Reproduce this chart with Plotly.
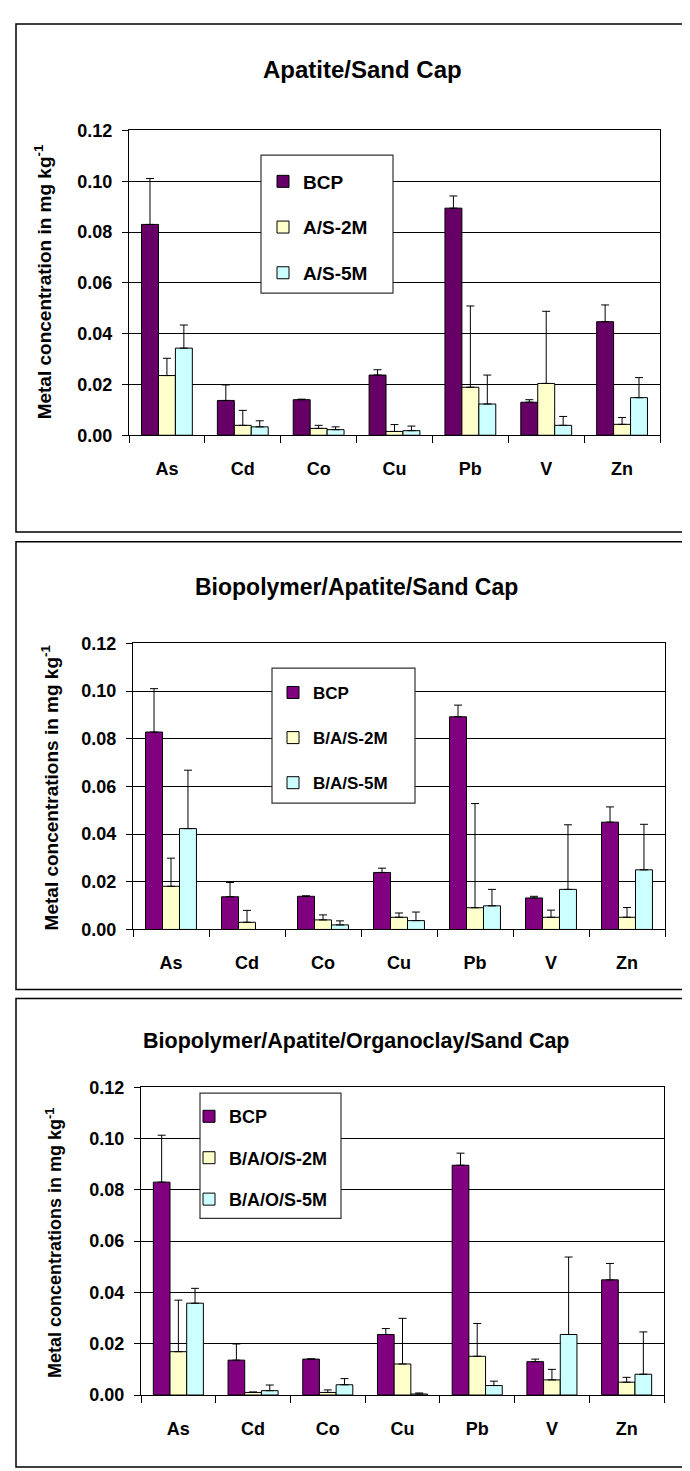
import plotly.graph_objects as go

W, H = 690, 1471

metals = ["As", "Cd", "Co", "Cu", "Pb", "V", "Zn"]

titles = ["Apatite/Sand Cap",
          "Biopolymer/Apatite/Sand Cap",
          "Biopolymer/Apatite/Organoclay/Sand Cap"]
ytitles = ["Metal concentration in mg kg<sup>-1</sup>",
           "Metal concentrations in mg kg<sup>-1</sup>",
           "Metal concentrations in mg kg<sup>-1</sup>"]
names1 = ["BCP", "A/S-2M", "A/S-5M"]
names2 = ["BCP", "B/A/S-2M", "B/A/S-5M"]
names3 = ["BCP", "B/A/O/S-2M", "B/A/O/S-5M"]

# Panel 1: Apatite/Sand Cap (means and upper error)
p1_bcp = [0.0830, 0.0137, 0.0140, 0.0237, 0.0894, 0.0130, 0.0447]
p1_bcp_err = [0.0181, 0.0061, 0.0002, 0.0021, 0.0048, 0.0010, 0.0066]
p1_2m = [0.0235, 0.0039, 0.0027, 0.0015, 0.0189, 0.0204, 0.0043]
p1_2m_err = [0.0068, 0.0059, 0.0012, 0.0027, 0.0320, 0.0284, 0.0027]
p1_5m = [0.0343, 0.0033, 0.0022, 0.0018, 0.0123, 0.0039, 0.0148]
p1_5m_err = [0.0091, 0.0024, 0.0011, 0.0018, 0.0114, 0.0035, 0.0079]

# Panel 2: Biopolymer/Apatite/Sand Cap
p2_bcp = [0.0828, 0.0137, 0.0139, 0.0239, 0.0892, 0.0132, 0.0450]
p2_bcp_err = [0.0182, 0.0060, 0.0002, 0.0018, 0.0049, 0.0007, 0.0064]
p2_2m = [0.0181, 0.0030, 0.0040, 0.0051, 0.0091, 0.0051, 0.0051]
p2_2m_err = [0.0118, 0.0050, 0.0021, 0.0018, 0.0437, 0.0030, 0.0041]
p2_5m = [0.0423, None, 0.0019, 0.0037, 0.0099, 0.0168, 0.0250]
p2_5m_err = [0.0245, 0.0, 0.0017, 0.0036, 0.0069, 0.0271, 0.0191]

# Panel 3: Biopolymer/Apatite/Organoclay/Sand Cap
p3_bcp = [0.0830, 0.0136, 0.0140, 0.0236, 0.0896, 0.0130, 0.0449]
p3_bcp_err = [0.0183, 0.0063, 0.0001, 0.0023, 0.0047, 0.0010, 0.0064]
p3_2m = [0.0169, 0.0010, 0.0010, 0.0121, 0.0151, 0.0059, 0.0050]
p3_2m_err = [0.0201, 0.0002, 0.0010, 0.0178, 0.0128, 0.0041, 0.0019]
p3_5m = [0.0358, 0.0017, 0.0040, 0.0004, 0.0037, 0.0236, 0.0081]
p3_5m_err = [0.0058, 0.0022, 0.0024, 0.0004, 0.0017, 0.0302, 0.0165]

yticks = [0.00, 0.02, 0.04, 0.06, 0.08, 0.10, 0.12]

FONT = "Liberation Sans, Arial, Helvetica, sans-serif"


def px(x):
    return x / W


def py(y):
    return 1 - y / H


panels = [
    dict(title=titles[0], ytitle=ytitles[0], names=names1,
         vals=[p1_bcp, p1_2m, p1_5m], errs=[p1_bcp_err, p1_2m_err, p1_5m_err],
         colors=["#660066", "#FFFFCC", "#CCFFFF"],
         plot=(121, 652, 114, 423), border=(8, 6, 740, 521),
         lbox=(253, 139, 385, 279), leg=(255, 146.5), gap=18, lfont=19,
         tpos=(354, 52), tfont=24, ypos=(35, 268), yfont=19),
    dict(title=titles[1], ytitle=ytitles[1], names=names2,
         vals=[p2_bcp, p2_2m, p2_5m], errs=[p2_bcp_err, p2_2m_err, p2_5m_err],
         colors=["#800080", "#FFFFCC", "#CCFFFF"],
         plot=(125, 657, 634, 924), border=(8, 531, 740, 985),
         lbox=(264, 659, 407, 796), leg=(265, 666), gap=20, lfont=17,
         tpos=(348, 577), tfont=23, ypos=(42, 780), yfont=19),
    dict(title=titles[2], ytitle=ytitles[2], names=names3,
         vals=[p3_bcp, p3_2m, p3_5m], errs=[p3_bcp_err, p3_2m_err, p3_5m_err],
         colors=["#800080", "#FFFFCC", "#CCFFFF"],
         plot=(133, 656, 1084, 1396), border=(8, 994, 687, 1469),
         lbox=(192, 1090, 333, 1217), leg=(181, 1095), gap=15, lfont=18,
         tpos=(348, 1037), tfont=21.5, ypos=(46, 1242), yfont=18),
]

fig = go.Figure()
shapes = []
annotations = []
layout = {}

for i, p in enumerate(panels):
    k = "" if i == 0 else str(i + 1)
    lg = "legend" if i == 0 else "legend" + str(i + 1)
    for j in range(3):
        err = p["errs"][j]
        fig.add_trace(go.Bar(
            x=metals, y=p["vals"][j], name=p["names"][j],
            xaxis="x" + k, yaxis="y" + k,
            legend=lg, legendgroup="p%d_%d" % (i, j),
            offsetgroup=str(j),
            marker=dict(color=p["colors"][j], line=dict(color="black", width=1)),
            error_y=dict(type="data", symmetric=False, array=err,
                         arrayminus=[0] * len(err), color="black",
                         thickness=1, width=4),
            hoverinfo="x+y+name",
        ))
    x0, x1, y0, y1 = p["plot"]
    layout["xaxis" + k] = dict(
        domain=[px(x0), px(x1)], anchor="y" + k, type="category",
        tickson="boundaries", ticks="outside", ticklen=7, tickwidth=1,
        tickcolor="black", showline=True, linecolor="black", linewidth=1,
        mirror=True, showgrid=False, ticklabelstandoff=17,
        tickfont=dict(family=FONT, size=18, color="black", weight="bold"),
        fixedrange=True,
    )
    layout["yaxis" + k] = dict(
        domain=[py(y1), py(y0)], anchor="x" + k, range=[0, 0.12],
        tickvals=yticks, tickformat=".2f", ticks="outside", ticklen=6,
        tickwidth=1, tickcolor="black", showline=True, linecolor="black",
        linewidth=1, mirror=True, showgrid=True, gridcolor="black",
        gridwidth=1, zeroline=False, ticklabelstandoff=6,
        tickfont=dict(family=FONT, size=18, color="black", weight="bold"),
        fixedrange=True,
    )
    layout[lg] = dict(
        x=px(p["leg"][0]), y=py(p["leg"][1]), xanchor="left", yanchor="top",
        bgcolor="rgba(0,0,0,0)", borderwidth=0, traceorder="grouped",
        tracegroupgap=p["gap"],
        font=dict(family=FONT, size=p["lfont"], color="black", weight="bold"),
    )
    bx0, by0, bx1, by1 = p["border"]
    shapes.append(dict(type="rect", xref="paper", yref="paper",
                       x0=px(bx0), x1=px(bx1), y0=py(by1), y1=py(by0),
                       line=dict(color="black", width=1.5), layer="below"))
    lx0, ly0, lx1, ly1 = p["lbox"]
    shapes.append(dict(type="rect", xref="paper", yref="paper",
                       x0=px(lx0), x1=px(lx1), y0=py(ly1), y1=py(ly0),
                       line=dict(color="#333333", width=1.2),
                       fillcolor="white", layer="above"))
    annotations.append(dict(text=p["title"], xref="paper", yref="paper",
                            x=px(p["tpos"][0]), y=py(p["tpos"][1]),
                            xanchor="center", yanchor="middle", showarrow=False,
                            font=dict(family=FONT, size=p["tfont"], color="black",
                                      weight="bold")))
    annotations.append(dict(text=p["ytitle"], xref="paper", yref="paper",
                            x=px(p["ypos"][0]), y=py(p["ypos"][1]),
                            xanchor="center", yanchor="middle", showarrow=False,
                            textangle=-90,
                            font=dict(family=FONT, size=p["yfont"], color="black",
                                      weight="bold")))

fig.update_layout(
    width=W, height=H, margin=dict(l=0, r=0, t=0, b=0),
    paper_bgcolor="white", plot_bgcolor="white",
    barmode="group", bargap=0.33, bargroupgap=0,
    shapes=shapes, annotations=annotations, showlegend=True,
    **layout,
)

fig.write_html("out.html")
